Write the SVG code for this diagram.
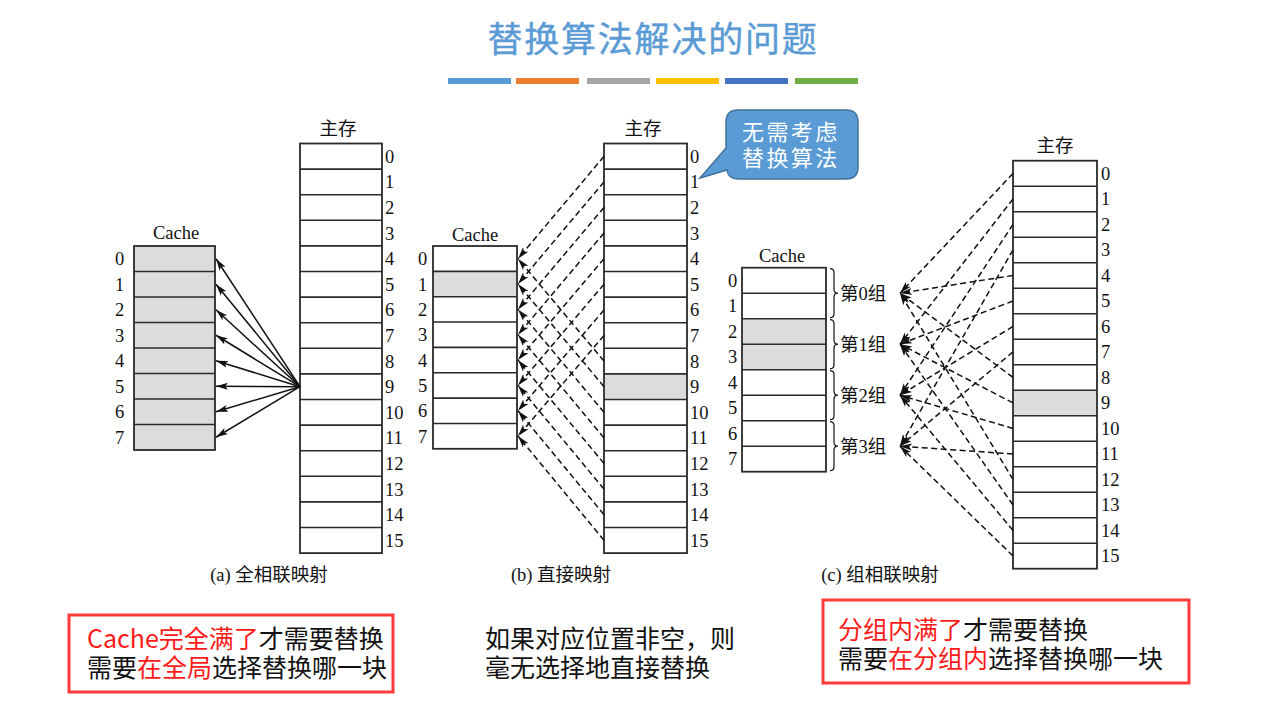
<svg xmlns="http://www.w3.org/2000/svg" width="1262" height="715" viewBox="0 0 1262 715">
<defs>
<style>
.box{fill:#fff;stroke:#2a2a2a;stroke-width:1.8}
.gray{fill:#dcdcdc;stroke:none}
.sep{fill:none;stroke:#2a2a2a;stroke-width:1.6}
.t{font-family:"Liberation Serif","Noto Sans CJK SC",serif;font-size:18.5px;fill:#111}
.solid{fill:none;stroke:#111;stroke-width:1.5;marker-end:url(#ah)}
.dash{fill:none;stroke:#111;stroke-width:1.5;stroke-dasharray:6 3.5;marker-end:url(#ah)}
.brace{fill:none;stroke:#111;stroke-width:1.2}
.bt{font-family:"Noto Sans CJK SC",sans-serif;font-size:25px;fill:#111}
.red{fill:#ff1a1a}
</style>
<marker id="ah" markerUnits="userSpaceOnUse" markerWidth="13" markerHeight="8" refX="12" refY="4" orient="auto">
<path d="M0,0.5 L12,4 L0,7.5 L2.8,4 Z" fill="#111"/>
</marker>
</defs>
<rect width="1262" height="715" fill="#fff"/>

<g id="title">
<text x="653" y="52" text-anchor="middle" font-family="Noto Sans CJK SC, sans-serif" font-size="35" letter-spacing="1.8" fill="#5b9bd5" stroke="#5b9bd5" stroke-width="0.4">替换算法解决的问题</text>
<rect x="448" y="78" width="63" height="6" fill="#5b9bd5"/>
<rect x="516" y="78" width="63" height="6" fill="#ed7d31"/>
<rect x="587" y="78" width="63" height="6" fill="#a5a5a5"/>
<rect x="656" y="78" width="63" height="6" fill="#ffc000"/>
<rect x="725" y="78" width="63" height="6" fill="#4472c4"/>
<rect x="795" y="78" width="63" height="6" fill="#70ad47"/>
</g>

<!-- Panel (a) -->
<g id="a-main">
<rect class="box" x="300" y="143.5" width="82" height="409.6"/>
<path class="sep" d="M300 169.1H382M300 194.7H382M300 220.3H382M300 245.9H382M300 271.5H382M300 297.1H382M300 322.7H382M300 348.3H382M300 373.9H382M300 399.5H382M300 425.1H382M300 450.7H382M300 476.3H382M300 501.9H382M300 527.5H382"/>
<text class="t" x="338" y="135" text-anchor="middle">主存</text>
<g class="t">
<text x="385" y="162.8">0</text><text x="385" y="188.4">1</text><text x="385" y="214">2</text><text x="385" y="239.6">3</text>
<text x="385" y="265.2">4</text><text x="385" y="290.8">5</text><text x="385" y="316.4">6</text><text x="385" y="342">7</text>
<text x="385" y="367.6">8</text><text x="385" y="393.2">9</text><text x="385" y="418.8">10</text><text x="385" y="444.4">11</text>
<text x="385" y="470">12</text><text x="385" y="495.6">13</text><text x="385" y="521.2">14</text><text x="385" y="546.8">15</text>
</g>
</g>
<g id="a-cache">
<rect class="box" x="134" y="246" width="81" height="204" style="fill:#dcdcdc"/>
<path class="sep" d="M134 271.5H215M134 297H215M134 322.5H215M134 348H215M134 373.5H215M134 399H215M134 424.5H215"/>
<text class="t" x="176" y="239" text-anchor="middle">Cache</text>
<g class="t">
<text x="115" y="265.25">0</text><text x="115" y="290.75">1</text><text x="115" y="316.25">2</text><text x="115" y="341.75">3</text>
<text x="115" y="367.25">4</text><text x="115" y="392.75">5</text><text x="115" y="418.25">6</text><text x="115" y="443.75">7</text>
</g>
</g>
<text class="t" x="269" y="581" text-anchor="middle">(a) 全相联映射</text>

<!-- Panel (b) -->
<g id="b-main">
<rect class="box" x="604" y="143.5" width="83" height="409.6"/>
<rect class="gray" x="605" y="373.9" width="81" height="25.6"/>
<path class="sep" d="M604 169.1H687M604 194.7H687M604 220.3H687M604 245.9H687M604 271.5H687M604 297.1H687M604 322.7H687M604 348.3H687M604 373.9H687M604 399.5H687M604 425.1H687M604 450.7H687M604 476.3H687M604 501.9H687M604 527.5H687"/>
<text class="t" x="643" y="135" text-anchor="middle">主存</text>
<g class="t">
<text x="690" y="162.8">0</text><text x="690" y="188.4">1</text><text x="690" y="214">2</text><text x="690" y="239.6">3</text>
<text x="690" y="265.2">4</text><text x="690" y="290.8">5</text><text x="690" y="316.4">6</text><text x="690" y="342">7</text>
<text x="690" y="367.6">8</text><text x="690" y="393.2">9</text><text x="690" y="418.8">10</text><text x="690" y="444.4">11</text>
<text x="690" y="470">12</text><text x="690" y="495.6">13</text><text x="690" y="521.2">14</text><text x="690" y="546.8">15</text>
</g>
</g>
<g id="b-cache">
<rect class="box" x="433" y="246" width="84" height="202.8"/>
<rect class="gray" x="434" y="271.35" width="82" height="25.35"/>
<path class="sep" d="M433 271.35H517M433 296.7H517M433 322.05H517M433 347.4H517M433 372.75H517M433 398.1H517M433 423.45H517"/>
<text class="t" x="475" y="241" text-anchor="middle">Cache</text>
<g class="t">
<text x="418" y="265.2">0</text><text x="418" y="290.5">1</text><text x="418" y="315.9">2</text><text x="418" y="341.2">3</text>
<text x="418" y="366.6">4</text><text x="418" y="391.9">5</text><text x="418" y="417.3">6</text><text x="418" y="442.6">7</text>
</g>
</g>
<text class="t" x="561" y="581" text-anchor="middle">(b) 直接映射</text>

<g id="callout">
<path d="M738 110H846Q858 110 858 122V167Q858 179 846 179H738Q728 179 727 170L700 178L726 148V122Q726 110 738 110Z" fill="#5b9bd5" stroke="#41719c" stroke-width="1.5"/>
<text x="742" y="139.5" font-family="Noto Sans CJK SC, sans-serif" font-size="22" letter-spacing="2.4" fill="#fff">无需考虑</text>
<text x="742" y="165.5" font-family="Noto Sans CJK SC, sans-serif" font-size="22" letter-spacing="2.4" fill="#fff">替换算法</text>
</g>

<!-- Panel (c) -->
<g id="c-main">
<rect class="box" x="1013" y="160.7" width="84" height="408"/>
<rect class="gray" x="1014" y="390.2" width="82" height="25.5"/>
<path class="sep" d="M1013 186.2H1097M1013 211.7H1097M1013 237.2H1097M1013 262.7H1097M1013 288.2H1097M1013 313.7H1097M1013 339.2H1097M1013 364.7H1097M1013 390.2H1097M1013 415.7H1097M1013 441.2H1097M1013 466.7H1097M1013 492.2H1097M1013 517.7H1097M1013 543.2H1097"/>
<text class="t" x="1055" y="152" text-anchor="middle">主存</text>
<g class="t">
<text x="1101" y="179.95">0</text><text x="1101" y="205.45">1</text><text x="1101" y="230.95">2</text><text x="1101" y="256.45">3</text>
<text x="1101" y="281.95">4</text><text x="1101" y="307.45">5</text><text x="1101" y="332.95">6</text><text x="1101" y="358.45">7</text>
<text x="1101" y="383.95">8</text><text x="1101" y="409.45">9</text><text x="1101" y="434.95">10</text><text x="1101" y="460.45">11</text>
<text x="1101" y="485.95">12</text><text x="1101" y="511.45">13</text><text x="1101" y="536.95">14</text><text x="1101" y="562.45">15</text>
</g>
</g>
<g id="c-cache">
<rect class="box" x="742" y="267.7" width="84" height="204"/>
<rect class="gray" x="743" y="318.7" width="82" height="51"/>
<path class="sep" d="M742 293.2H826M742 318.7H826M742 344.2H826M742 369.7H826M742 395.2H826M742 420.7H826M742 446.2H826"/>
<text class="t" x="782" y="262" text-anchor="middle">Cache</text>
<g class="t">
<text x="728" y="286.95">0</text><text x="728" y="312.45">1</text><text x="728" y="337.95">2</text><text x="728" y="363.45">3</text>
<text x="728" y="388.95">4</text><text x="728" y="414.45">5</text><text x="728" y="439.95">6</text><text x="728" y="465.45">7</text>
</g>
<path class="brace" d="M830 268.7q4 0 4 4V289.2q0 4 4 4q-4 0-4 4V313.7q0 4-4 4"/>
<path class="brace" d="M830 319.7q4 0 4 4V340.2q0 4 4 4q-4 0-4 4V364.7q0 4-4 4"/>
<path class="brace" d="M830 370.7q4 0 4 4V391.2q0 4 4 4q-4 0-4 4V415.7q0 4-4 4"/>
<path class="brace" d="M830 421.7q4 0 4 4V442.2q0 4 4 4q-4 0-4 4V466.7q0 4-4 4"/>
<g class="t">
<text x="840" y="300">第0组</text>
<text x="840" y="351">第1组</text>
<text x="840" y="402">第2组</text>
<text x="840" y="453">第3组</text>
</g>
</g>
<text class="t" x="880" y="581" text-anchor="middle">(c) 组相联映射</text>

<g id="connectors">
<g id="a-arrows">
<path class="solid" d="M300 386.7L216 258.75"/>
<path class="solid" d="M300 386.7L216 284.25"/>
<path class="solid" d="M300 386.7L216 309.75"/>
<path class="solid" d="M300 386.7L216 335.25"/>
<path class="solid" d="M300 386.7L216 360.75"/>
<path class="solid" d="M300 386.7L216 386.25"/>
<path class="solid" d="M300 386.7L216 411.75"/>
<path class="solid" d="M300 386.7L216 437.25"/>
</g>
<g id="b-arrows">
<path class="dash" d="M604 156.3L518 258.7"/>
<path class="dash" d="M604 181.9L518 284"/>
<path class="dash" d="M604 207.5L518 309.4"/>
<path class="dash" d="M604 233.1L518 334.7"/>
<path class="dash" d="M604 258.7L518 360.1"/>
<path class="dash" d="M604 284.3L518 385.4"/>
<path class="dash" d="M604 309.9L518 410.8"/>
<path class="dash" d="M604 335.5L518 436.1"/>
<path class="dash" d="M604 361.1L518 258.7"/>
<path class="dash" d="M604 386.7L518 284"/>
<path class="dash" d="M604 412.3L518 309.4"/>
<path class="dash" d="M604 437.9L518 334.7"/>
<path class="dash" d="M604 463.5L518 360.1"/>
<path class="dash" d="M604 489.1L518 385.4"/>
<path class="dash" d="M604 514.7L518 410.8"/>
<path class="dash" d="M604 540.3L518 436.1"/>
</g>
<g id="c-arrows">
<path class="dash" d="M1013 173.45L900 293.2"/>
<path class="dash" d="M1013 275.45L900 293.2"/>
<path class="dash" d="M1013 377.45L900 293.2"/>
<path class="dash" d="M1013 479.45L900 293.2"/>
<path class="dash" d="M1013 198.95L900 344.2"/>
<path class="dash" d="M1013 300.95L900 344.2"/>
<path class="dash" d="M1013 402.95L900 344.2"/>
<path class="dash" d="M1013 504.95L900 344.2"/>
<path class="dash" d="M1013 224.45L900 395.2"/>
<path class="dash" d="M1013 326.45L900 395.2"/>
<path class="dash" d="M1013 428.45L900 395.2"/>
<path class="dash" d="M1013 530.45L900 395.2"/>
<path class="dash" d="M1013 249.95L900 446.2"/>
<path class="dash" d="M1013 351.95L900 446.2"/>
<path class="dash" d="M1013 453.95L900 446.2"/>
<path class="dash" d="M1013 555.95L900 446.2"/>
</g>
</g>

<g id="note-left">
<rect x="69" y="615" width="324" height="77" fill="none" stroke="#ff3b3b" stroke-width="3"/>
<text class="bt" x="87" y="648"><tspan class="red">Cache完全满了</tspan>才需要替换</text>
<text class="bt" x="87" y="677">需要<tspan class="red">在全局</tspan>选择替换哪一块</text>
</g>
<g id="note-middle">
<text class="bt" x="485" y="648">如果对应位置非空，则</text>
<text class="bt" x="485" y="677">毫无选择地直接替换</text>
</g>
<g id="note-right">
<rect x="823" y="600" width="366" height="83" fill="none" stroke="#ff3b3b" stroke-width="3"/>
<text class="bt" x="838" y="638.5"><tspan class="red">分组内满了</tspan>才需要替换</text>
<text class="bt" x="838" y="668">需要<tspan class="red">在分组内</tspan>选择替换哪一块</text>
</g>
</svg>
